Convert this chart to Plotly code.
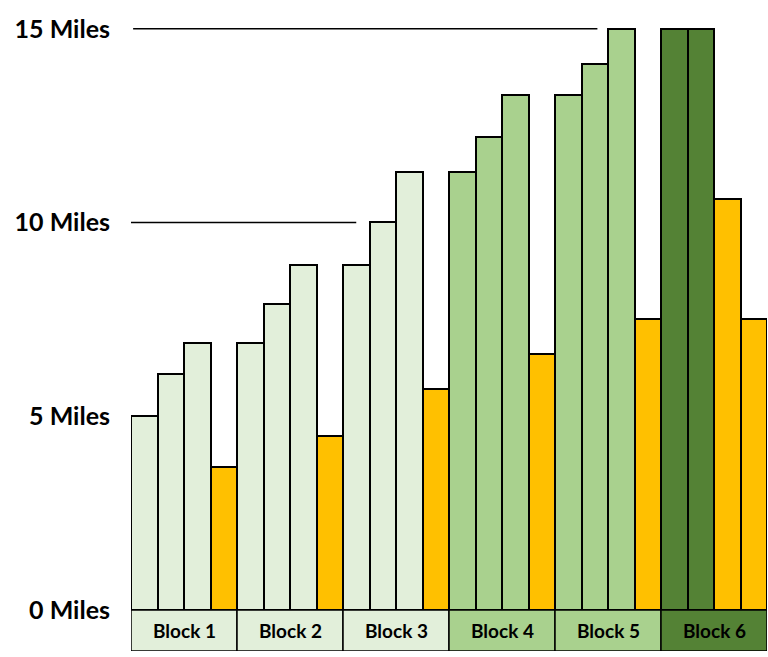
import plotly.graph_objects as go

# ---- data ----
blocks = ["Block 1", "Block 2", "Block 3", "Block 4", "Block 5", "Block 6"]
phases = ["Base", "Base", "Base", "Build", "Build", "Peak"]
block_miles = [
    [5.0, 6.1, 6.9, 3.7],
    [6.9, 7.9, 8.9, 4.5],
    [8.9, 10.0, 11.3, 5.7],
    [11.3, 12.2, 13.3, 6.6],
    [13.3, 14.1, 15.0, 7.5],
    [15.0, 15.0, 10.6, 7.5],
]
block_kinds = [
    ["Long", "Long", "Long", "Short"],
    ["Long", "Long", "Long", "Short"],
    ["Long", "Long", "Long", "Short"],
    ["Long", "Long", "Long", "Short"],
    ["Long", "Long", "Long", "Short"],
    ["Long", "Long", "Short", "Short"],
]
tick_vals = [0, 5, 10, 15]
tick_text = ["0 Miles", "5 Miles", "10 Miles", "15 Miles"]

# ---- styling ----
phase_color = {"Base": "#E2EFDA", "Build": "#A9D18E", "Peak": "#548235"}
short_color = "#FFC000"

xs, ys, cols = [], [], []
i = 0
for b, (vals, kinds) in enumerate(zip(block_miles, block_kinds)):
    for v, k in zip(vals, kinds):
        xs.append(i)
        ys.append(v)
        cols.append(short_color if k == "Short" else phase_color[phases[b]])
        i += 1

fig = go.Figure(go.Bar(
    x=xs, y=ys,
    marker=dict(color=cols, line=dict(color="black", width=2)),
    hoverinfo="skip",
))

y_bottom = -1.06
shapes = []
annotations = []
per = len(block_miles[0])
for b, name in enumerate(blocks):
    x0 = b * per - 0.5
    x1 = x0 + per
    shapes.append(dict(type="rect", xref="x", yref="y", x0=x0, x1=x1,
                       y0=y_bottom, y1=0, fillcolor=phase_color[phases[b]],
                       line=dict(color="black", width=1.5), layer="above"))
    annotations.append(dict(x=(x0 + x1) / 2, y=y_bottom / 2, xref="x", yref="y",
                            text="<b>" + name + "</b>", showarrow=False,
                            font=dict(family="Lato", size=19, color="black")))

# partial reference lines
shapes.append(dict(type="line", xref="x", yref="y", x0=-0.62, x1=8.0, y0=10, y1=10,
                   line=dict(color="black", width=1.5), layer="below"))
shapes.append(dict(type="line", xref="x", yref="y", x0=-0.42, x1=17.1, y0=15, y1=15,
                   line=dict(color="black", width=1.5), layer="below"))

fig.update_layout(
    width=768, height=657,
    margin=dict(l=131, r=1, t=21, b=6),
    paper_bgcolor="white", plot_bgcolor="white",
    bargap=0, showlegend=False,
    shapes=shapes, annotations=annotations,
    xaxis=dict(range=[-0.5, 23.5], showticklabels=False, showgrid=False,
               zeroline=False, showline=False, ticks=""),
    yaxis=dict(range=[y_bottom, 15.2], tickvals=tick_vals, ticktext=tick_text,
               showgrid=False, zeroline=False, showline=False, ticks="",
               ticklabelstandoff=20,
               tickfont=dict(family="Lato", size=25, color="black", weight="bold")),
)

fig.write_html("out.html")
